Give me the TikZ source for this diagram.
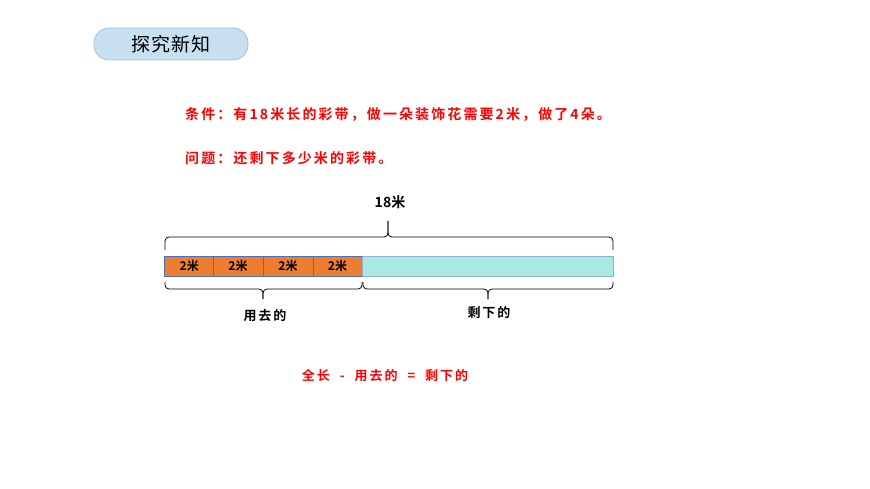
\documentclass[tikz,border=0pt]{standalone}
\usepackage{fontspec}
\setmainfont{Noto Sans CJK SC}
\newfontfamily\cjkb[LetterSpace=15]{Noto Sans CJK SC Bold}
\newfontfamily\cjkbn{Noto Sans CJK SC Bold}
\newfontfamily\cjkr[LetterSpace=4]{Noto Sans CJK SC}
\definecolor{pillfill}{RGB}{200,224,240}
\definecolor{pillline}{RGB}{160,195,230}
\definecolor{segorange}{RGB}{237,125,49}
\definecolor{segline}{RGB}{68,114,196}
\definecolor{restfill}{RGB}{170,233,225}
\definecolor{restline}{RGB}{140,180,210}
\begin{document}
\begin{tikzpicture}[x=1pt,y=-1pt,
  pill/.style={draw=pillline,fill=pillfill,rounded corners=15pt,line width=0.8pt,minimum width=154pt,minimum height=32pt,inner sep=0pt,font=\cjkr\fontsize{19}{21}\selectfont},
  redtext/.style={anchor=west,inner sep=0pt,text=red,font=\cjkb\fontsize{14}{16}\selectfont},
  seg/.style={draw=segline,fill=segorange,line width=0.6pt,minimum height=20pt,minimum width=49pt,inner sep=0pt,font=\cjkbn\fontsize{12}{14}\selectfont},
  rest/.style={draw=restline,fill=restfill,line width=0.6pt,minimum height=20pt,inner sep=0pt},
  bracel/.style={draw=black,line width=0.8pt,rounded corners=4pt},
  lbl/.style={inner sep=0pt,font=\cjkb\fontsize{13}{15}\selectfont}
]
\useasboundingbox (0,0) rectangle (870,489);
\node[pill] (title) at (171,44) {探究新知};
\node[redtext] (cond) at (185,115) {条件：有18米长的彩带，做一朵装饰花需要2米，做了4朵。};
\node[redtext] (ques) at (185,158) {问题：还剩下多少米的彩带。};
% bar
\node[seg,minimum width=49pt] (s1) at (189.25,266) {2米};
\node[seg,minimum width=50pt] (s2) at (238,266) {2米};
\node[seg,minimum width=50pt] (s3) at (288,266) {2米};
\node[seg,minimum width=49pt] (s4) at (337.5,266) {2米};
\node[rest,minimum width=251pt] (rest) at (487.5,266) {};
% top brace
\coordinate (tl) at (165,250);
\coordinate (tr) at (613,250);
\coordinate (tt) at (388,221);
\draw[bracel] (tl) -- (165,237) -- (tt |- 0,237) -- (tt);
\draw[bracel] (tr) -- (613,237) -- (tt |- 0,237) -- (tt);
\node[inner sep=0pt,font=\cjkbn\fontsize{14}{16}\selectfont] (total) at (390,202) {18米};
% bottom braces
\coordinate (bl1) at (165,282);
\coordinate (bl2) at (362,282);
\coordinate (bt1) at (263,299);
\draw[bracel] (bl1) -- (165,289) -- (bt1 |- 0,289) -- (bt1);
\draw[bracel] (bl2) -- (362,289) -- (bt1 |- 0,289) -- (bt1);
\coordinate (br1) at (363,282);
\coordinate (br2) at (613,282);
\coordinate (bt2) at (488,299);
\draw[bracel] (br1) -- (363,289) -- (bt2 |- 0,289) -- (bt2);
\draw[bracel] (br2) -- (613,289) -- (bt2 |- 0,289) -- (bt2);
\node[lbl] (used) at (265,316) {用去的};
\node[lbl] (left) at (489,313) {剩下的};
\node[lbl,text=red] (formula) at (385,376) {全长\hspace{10pt}-\hspace{10pt}用去的\hspace{10pt}=\hspace{10pt}剩下的};
\end{tikzpicture}
\end{document}
